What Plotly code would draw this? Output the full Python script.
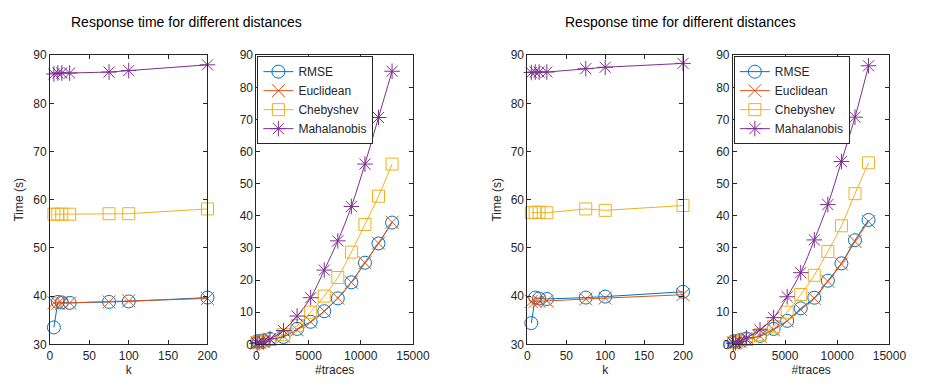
import plotly.graph_objects as go

# ---- data ----
names = ["RMSE", "Euclidean", "Chebyshev", "Mahalanobis"]
colors = ["#0072BD", "#D95319", "#EDB120", "#7E2F8E"]
symbols = ["circle-open", "x-thin-open", "square-open", "asterisk-open"]
msizes = [13, 13, 12, 13]

k_vals = [5, 10, 15, 25, 75, 100, 200]
traces_vals = [65, 260, 650, 1300, 2600, 3900, 5200, 6500, 7800, 9100, 10400, 11700, 13000]

# left group
k1_rmse = [33.5, 38.8, 38.7, 38.6, 38.8, 38.9, 39.7]
k1_eucl = [38.6, 38.5, 38.5, 38.6, 38.8, 39.0, 39.5]
k1_cheb = [57.0, 57.0, 57.0, 57.0, 57.1, 57.1, 58.1]
k1_maha = [86.1, 86.3, 86.3, 86.3, 86.5, 86.8, 88.0]

t1_rmse = [0.9, 1.0, 1.2, 1.7, 2.3, 4.8, 7.0, 10.3, 14.3, 19.3, 25.4, 31.4, 37.9]
t1_eucl = [0.4, 0.6, 0.9, 1.5, 2.5, 4.5, 7.0, 10.3, 14.4, 19.3, 25.4, 31.5, 38.0]
t1_cheb = [0.5, 0.7, 1.0, 1.5, 3.0, 5.8, 10.0, 15.0, 20.8, 28.7, 37.3, 46.1, 56.1]
t1_maha = [0.3, 0.5, 0.8, 1.7, 4.3, 8.8, 14.5, 23.1, 32.2, 42.9, 56.1, 70.6, 85.0]

# right group
k2_rmse = [34.4, 39.7, 39.5, 39.4, 39.7, 39.9, 40.9]
k2_eucl = [38.9, 38.9, 38.9, 39.0, 39.4, 39.6, 40.3]
k2_cheb = [57.3, 57.4, 57.4, 57.3, 58.1, 57.8, 58.8]
k2_maha = [86.4, 86.5, 86.5, 86.5, 87.2, 87.5, 88.3]

t2_rmse = [0.9, 1.0, 1.3, 1.8, 2.6, 4.8, 7.3, 11.2, 14.5, 19.8, 25.2, 32.4, 38.7]
t2_eucl = [0.4, 0.6, 0.9, 1.5, 2.5, 4.5, 7.3, 10.8, 14.3, 19.6, 25.0, 32.0, 38.2]
t2_cheb = [0.5, 0.7, 1.0, 1.5, 3.0, 5.5, 10.0, 15.5, 21.5, 28.9, 36.9, 46.9, 56.5]
t2_maha = [0.3, 0.5, 0.9, 2.0, 4.5, 8.3, 14.8, 22.3, 32.5, 43.5, 56.9, 70.7, 86.7]

title_text = "Response time for different distances"

W, H = 926, 386
font_family = "Liberation Sans, Arial, sans-serif"
axis_col = "#262626"

fig = go.Figure()

panels = [
    ("x", "y", k_vals, [k1_rmse, k1_eucl, k1_cheb, k1_maha], None, "linear"),
    ("x2", "y2", traces_vals, [t1_rmse, t1_eucl, t1_cheb, t1_maha], "legend", "spline"),
    ("x3", "y3", k_vals, [k2_rmse, k2_eucl, k2_cheb, k2_maha], None, "linear"),
    ("x4", "y4", traces_vals, [t2_rmse, t2_eucl, t2_cheb, t2_maha], "legend2", "spline"),
]

for xa, ya, xs, series, leg, shape in panels:
    for i, ys in enumerate(series):
        fig.add_trace(go.Scatter(
            x=xs, y=ys, xaxis=xa, yaxis=ya,
            mode="lines+markers", name=names[i],
            line=dict(color=colors[i], width=1, shape=shape),
            marker=dict(symbol=symbols[i], size=msizes[i], color=colors[i],
                        line=dict(color=colors[i], width=1)),
            showlegend=leg is not None,
            legend=leg if leg else "legend",
            cliponaxis=False,
        ))

def px_dom(a, b, total):
    return [a / total, b / total]

ydom = [(H - 350) / H, (H - 50) / H]
xdoms = [px_dom(48, 209, W), px_dom(259, 419, W), px_dom(536, 695, W), px_dom(746, 906, W)]

common_ax = dict(showline=True, linecolor=axis_col, linewidth=1, mirror="ticks",
                 ticks="inside", ticklen=4, tickcolor=axis_col, showgrid=False,
                 zeroline=False, tickformat="d",
                 tickfont=dict(size=12, color=axis_col, family=font_family))

layout = dict(
    width=W, height=H, margin=dict(l=0, r=0, t=0, b=0),
    paper_bgcolor="white", plot_bgcolor="white",
    font=dict(family=font_family, color=axis_col),
)

for idx in range(4):
    n = "" if idx == 0 else str(idx + 1)
    is_k = idx in (0, 2)
    xaxis = dict(common_ax, domain=xdoms[idx], anchor="y" + n,
                 range=[0, 200] if is_k else [0, 15000],
                 tick0=0, dtick=50 if is_k else 5000,
                 title=dict(text="k" if is_k else "#traces", font=dict(size=12), standoff=2))
    yaxis = dict(common_ax, domain=ydom, anchor="x" + n,
                 range=[30, 90] if is_k else [0, 90], tick0=0, dtick=10)
    if is_k:
        yaxis["title"] = dict(text="Time (s)", font=dict(size=12), standoff=6)
    layout["xaxis" + n] = xaxis
    layout["yaxis" + n] = yaxis

leg_common = dict(xanchor="left", yanchor="top", bgcolor="white", bordercolor=axis_col,
                  borderwidth=1, font=dict(size=12, color=axis_col, family=font_family),
                  tracegroupgap=0, itemwidth=30)
layout["legend"] = dict(leg_common, x=260 / W, y=(H - 51) / H)
layout["legend2"] = dict(leg_common, x=747 / W, y=(H - 51) / H)

layout["annotations"] = [
    dict(text=title_text, x=188 / W, y=(H - 5) / H, xref="paper", yref="paper",
         showarrow=False, xanchor="center", yanchor="top",
         font=dict(size=14, color="black", family=font_family)),
    dict(text=title_text, x=692 / W, y=(H - 5) / H, xref="paper", yref="paper",
         showarrow=False, xanchor="center", yanchor="top",
         font=dict(size=14, color="black", family=font_family)),
]

fig.update_layout(**layout)
fig.write_html("out.html", config={"displayModeBar": False},
               post_script="document.body.style.margin='0';document.body.style.overflow='hidden';")
